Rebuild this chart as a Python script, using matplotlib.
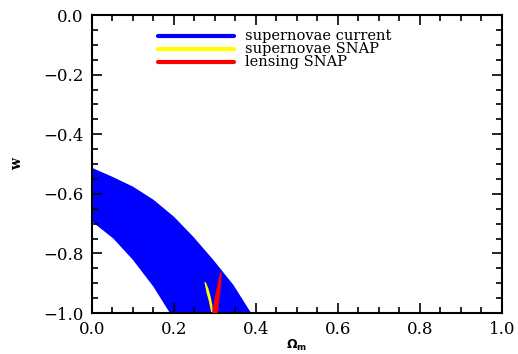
import numpy as np
import matplotlib.pyplot as plt
from matplotlib.patches import Polygon

# supernovae current: band boundaries (Omega_m, w)
band_upper_om = [0.0, 0.05, 0.10, 0.15, 0.20, 0.247, 0.296, 0.345, 0.388]
band_upper_w = [-0.513, -0.543, -0.576, -0.620, -0.677, -0.744, -0.822, -0.906, -1.0]
band_lower_om = [0.0, 0.052, 0.10, 0.15, 0.19]
band_lower_w = [-0.693, -0.750, -0.822, -0.912, -1.0]

# supernovae SNAP contour
sn_snap_om = [0.274, 0.278, 0.2837, 0.2894, 0.2935, 0.2943, 0.2902, 0.2854, 0.2797]
sn_snap_w = [-0.895, -0.898, -0.917, -0.945, -0.973, -1.0, -0.9955, -0.962, -0.934]

# lensing SNAP contour
lens_om = [0.2935, 0.2967, 0.3033, 0.3098, 0.3146, 0.3163, 0.3146, 0.3106, 0.3065]
lens_w = [-1.0, -0.967, -0.923, -0.878, -0.861, -0.865, -0.912, -0.956, -1.0]

labels = ["supernovae current", "supernovae SNAP", "lensing SNAP"]
colors = ["#0000ff", "#ffff00", "#ff0000"]

plt.rcParams['font.family'] = 'DejaVu Serif'

fig = plt.figure(figsize=(5.18, 3.54), dpi=100)
ax = fig.add_axes([0.1776, 0.1158, 0.7915, 0.8418])

# blue band polygon: upper edge then lower edge reversed
band_om = band_upper_om + band_lower_om[::-1]
band_w = band_upper_w + band_lower_w[::-1]
ax.add_patch(Polygon(np.column_stack([band_om, band_w]), closed=True,
                     facecolor=colors[0], edgecolor='none', zorder=1))
ax.add_patch(Polygon(np.column_stack([sn_snap_om, sn_snap_w]), closed=True,
                     facecolor=colors[1], edgecolor='none', zorder=2))
ax.add_patch(Polygon(np.column_stack([lens_om, lens_w]), closed=True,
                     facecolor=colors[2], edgecolor='none', zorder=3))

ax.set_xlim(0, 1)
ax.set_ylim(-1, 0)
ax.set_xticks(np.arange(0, 1.01, 0.2))
ax.set_yticks(np.arange(-1, 0.01, 0.2))
ax.set_xticks(np.arange(0, 1.01, 0.05), minor=True)
ax.set_yticks(np.arange(-1, 0.01, 0.05), minor=True)
fmt = lambda v, p: "0.0" if abs(v) < 1e-9 else f"{v:.1f}".replace('-', '\u2212')
ax.xaxis.set_major_formatter(plt.FuncFormatter(fmt))
ax.yaxis.set_major_formatter(plt.FuncFormatter(fmt))
ax.tick_params(which='both', direction='in', top=True, right=True, width=1.2,
               labelsize=12, pad=6)
ax.tick_params(which='major', length=7)
ax.tick_params(which='minor', length=4)
for s in ax.spines.values():
    s.set_linewidth(1.5)

ax.set_xlabel(r'$\mathbf{\Omega_m}$', fontsize=9)
ax.xaxis.set_label_coords(0.5, -0.082)
ax.set_ylabel('w', fontsize=10, fontweight='bold', labelpad=14)

# legend drawn by hand (tight IDL-style spacing)
leg_y = [-0.0705, -0.114, -0.158]
for yy, lab, c in zip(leg_y, labels, colors):
    ax.plot([0.161, 0.346], [yy, yy], color=c, lw=3, solid_capstyle='round',
            clip_on=False, zorder=5)
    ax.text(0.373, yy, lab, fontsize=10.5, va='center', ha='left', zorder=5)

fig.savefig('out.png', dpi=100)
